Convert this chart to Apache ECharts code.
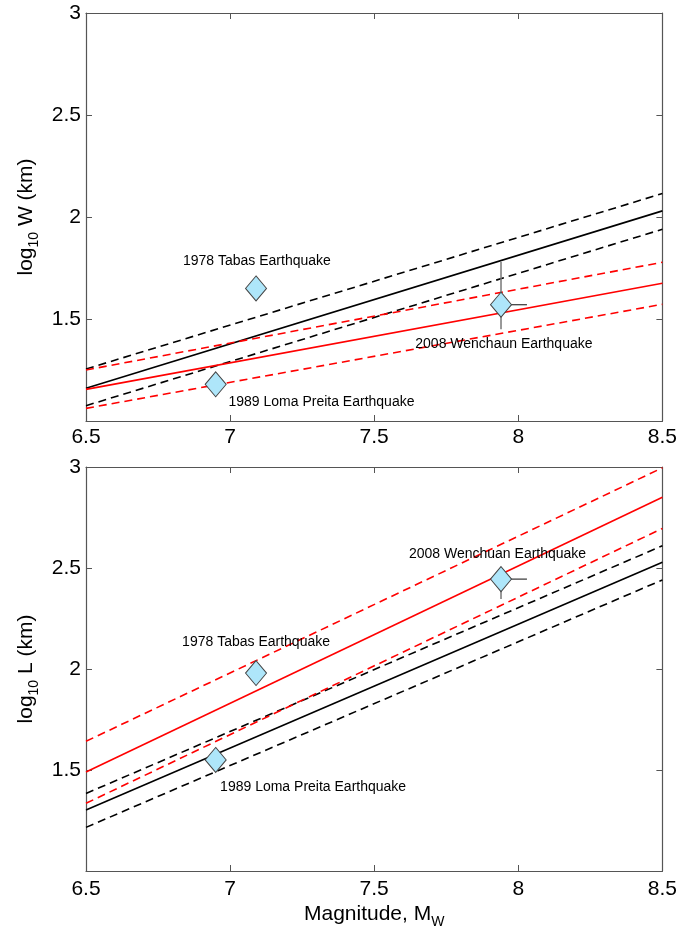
<!DOCTYPE html>
<html>
<head>
<meta charset="utf-8">
<script src="https://cdn.jsdelivr.net/npm/echarts@6/dist/echarts.min.js"></script>
<style>html,body{margin:0;padding:0;background:#fff}#c{width:680px;height:930px}</style>
</head>
<body>
<div id="c"></div>
<script>
// Magnitude range for the regression lines
const magnitudes = [6.5, 8.5];
const xTicks = [6.5, 7, 7.5, 8, 8.5];
const yTicks = [1.5, 2, 2.5, 3];

// Top panel: log10 W (km)
const wBlackMedian = [1.16, 2.03];
const wBlackUpper  = [1.255, 2.115];
const wBlackLower  = [1.075, 1.94];
const wRedMedian   = [1.155, 1.675];
const wRedUpper    = [1.25, 1.778];
const wRedLower    = [1.062, 1.572];

// Bottom panel: log10 L (km)
const lBlackMedian = [1.302, 2.528];
const lBlackUpper  = [1.384, 2.61];
const lBlackLower  = [1.216, 2.441];
const lRedMedian   = [1.49, 2.85];
const lRedUpper    = [1.642, 2.996];
const lRedLower    = [1.335, 2.696];

// Earthquakes
const wNames = ['1978 Tabas Earthquake', '1989 Loma Preita Earthquake', '2008 Wenchaun Earthquake'];
const lNames = ['1978 Tabas Earthquake', '1989 Loma Preita Earthquake', '2008 Wenchuan Earthquake'];
const eventMag  = [7.09, 6.95, 7.94];
const eventLogW = [1.65, 1.18, 1.57];
const eventLogL = [1.98, 1.55, 2.445];

// Error bars: [xlo, xhi, ylo, yhi]
const wErr = [[7.09, 7.09, 1.65, 1.65], [6.915, 6.95, 1.18, 1.18], [7.94, 8.03, 1.45, 1.78]];
const lErr = [[7.09, 7.09, 1.98, 1.98], [6.95, 6.95, 1.55, 1.55], [7.94, 8.03, 2.347, 2.445]];

// Annotation anchor points (data coordinates)
const wLabelMag = [7.093, 7.317, 7.95];
const wLabelVal = [1.784, 1.09, 1.377];
const lLabelMag = [7.09, 7.288, 7.928];
const lLabelVal = [2.135, 1.416, 2.571];

const FONT = 'Liberation Sans, Arial, Helvetica, sans-serif';
const AX = '#555';

function lineSeries(vals, color, dashed, xi, yi) {
  return {
    type: 'line', xAxisIndex: xi, yAxisIndex: yi, symbol: 'none', silent: true,
    data: magnitudes.map((m, i) => [m, vals[i]]),
    lineStyle: { color: color, width: 1.6, type: dashed ? [8, 5] : 'solid' },
    z: 2
  };
}
function errSeries(err, xi, yi) {
  return {
    type: 'custom', xAxisIndex: xi, yAxisIndex: yi, silent: true, z: 3,
    data: err.map((e, i) => [eventMag[i], 0, e[0], e[1], e[2], e[3]]),
    renderItem: function (params, api) {
      const xlo = api.value(2), xhi = api.value(3), ylo = api.value(4), yhi = api.value(5);
      const yc = (yi === 0 ? eventLogW : eventLogL)[params.dataIndex];
      const xc = api.value(0);
      const children = [];
      if (xhi > xlo) {
        const a = api.coord([xlo, yc]), b = api.coord([xhi, yc]);
        children.push({ type: 'line', shape: { x1: a[0], y1: a[1], x2: b[0], y2: b[1] }, style: { stroke: '#333', lineWidth: 1.2 } });
      }
      if (yhi > ylo) {
        const a = api.coord([xc, ylo]), b = api.coord([xc, yhi]);
        children.push({ type: 'line', shape: { x1: a[0], y1: a[1], x2: b[0], y2: b[1] }, style: { stroke: '#777', lineWidth: 1.5 } });
      }
      return { type: 'group', children: children };
    }
  };
}
function pointSeries(vals, xi, yi) {
  return {
    type: 'scatter', xAxisIndex: xi, yAxisIndex: yi, silent: true, z: 5,
    symbol: 'diamond', symbolSize: [21, 25],
    itemStyle: { color: '#AEE6FA', borderColor: '#444', borderWidth: 1, opacity: 1 },
    data: eventMag.map((m, i) => [m, vals[i]])
  };
}
function labelSeries(names, mags, vals, xi, yi) {
  return {
    type: 'scatter', xAxisIndex: xi, yAxisIndex: yi, silent: true, z: 6,
    symbolSize: 0,
    itemStyle: { opacity: 1 },
    data: names.map((n, i) => ({ value: [mags[i], vals[i]], name: n })),
    label: { show: true, position: 'inside', formatter: p => p.name, color: '#000',
      textBorderWidth: 0, fontSize: 14, fontFamily: FONT }
  };
}

const xBase = { type: 'value', min: 6.5, max: 8.5, interval: 0.5 };
const yBase = { type: 'value', min: 1, max: 3, interval: 0.5 };
const axLine = { show: true, lineStyle: { color: AX, width: 1.2 } };
const tick = { show: true, inside: true, length: 6, lineStyle: { color: AX, width: 1 } };

function xAxes(gi, withName) {
  return [
    Object.assign({}, xBase, {
      gridIndex: gi, position: 'bottom', axisLine: axLine, axisTick: tick, splitLine: { show: false },
      axisLabel: { color: '#000', fontSize: 21, fontFamily: FONT, margin: gi === 0 ? 6 : 8,
        formatter: v => String(v) },
      name: withName ? '{m|Magnitude, M}{s|W}' : '', nameLocation: 'middle', nameGap: 28,
      nameTextStyle: { rich: {
        m: { fontSize: 21, fontFamily: FONT, color: '#000', lineHeight: 30, verticalAlign: 'middle' },
        s: { fontSize: 14, fontFamily: FONT, color: '#000', lineHeight: 30, verticalAlign: 'bottom' } } }
    }),
    Object.assign({}, xBase, {
      gridIndex: gi, position: 'top', axisLine: axLine, axisTick: tick, axisLabel: { show: false }, splitLine: { show: false }
    })
  ];
}
function yAxes(gi, letter) {
  return [
    Object.assign({}, yBase, {
      gridIndex: gi, position: 'left', axisLine: axLine, axisTick: tick, splitLine: { show: false },
      axisLabel: { color: '#000', fontSize: 21, fontFamily: FONT, margin: 5,
        formatter: v => (v === 1 ? '' : String(v)) },
      name: '{m|log}{s|10}{m| ' + letter + ' (km)}', nameLocation: 'middle', nameGap: 44, nameRotate: 90,
      nameTextStyle: { rich: {
        m: { fontSize: 21, fontFamily: FONT, color: '#000', lineHeight: 30, verticalAlign: 'middle' },
        s: { fontSize: 14, fontFamily: FONT, color: '#000', lineHeight: 30, verticalAlign: 'bottom' } } }
    }),
    Object.assign({}, yBase, {
      gridIndex: gi, position: 'right', axisLine: axLine, axisTick: tick, axisLabel: { show: false }, splitLine: { show: false }
    })
  ];
}

const chart = echarts.init(document.getElementById('c'), null, { renderer: 'canvas' });
chart.setOption({
  animation: false,
  backgroundColor: '#fff',
  grid: [
    { left: 86, width: 578, top: 13, height: 408 },
    { left: 86, width: 578, top: 467, height: 408 }
  ],
  xAxis: xAxes(0, false).concat(xAxes(1, true)),
  yAxis: yAxes(0, 'W').concat(yAxes(1, 'L')),
  series: [
    lineSeries(wBlackUpper, '#000', true, 0, 0),
    lineSeries(wBlackMedian, '#000', false, 0, 0),
    lineSeries(wBlackLower, '#000', true, 0, 0),
    lineSeries(wRedUpper, '#FF0000', true, 0, 0),
    lineSeries(wRedMedian, '#FF0000', false, 0, 0),
    lineSeries(wRedLower, '#FF0000', true, 0, 0),
    errSeries(wErr, 0, 0),
    pointSeries(eventLogW, 0, 0),
    labelSeries(wNames, wLabelMag, wLabelVal, 0, 0),

    lineSeries(lBlackUpper, '#000', true, 2, 2),
    lineSeries(lBlackMedian, '#000', false, 2, 2),
    lineSeries(lBlackLower, '#000', true, 2, 2),
    lineSeries(lRedUpper, '#FF0000', true, 2, 2),
    lineSeries(lRedMedian, '#FF0000', false, 2, 2),
    lineSeries(lRedLower, '#FF0000', true, 2, 2),
    errSeries(lErr, 2, 2),
    pointSeries(eventLogL, 2, 2),
    labelSeries(lNames, lLabelMag, lLabelVal, 2, 2)
  ]
});
</script>
</body>
</html>
